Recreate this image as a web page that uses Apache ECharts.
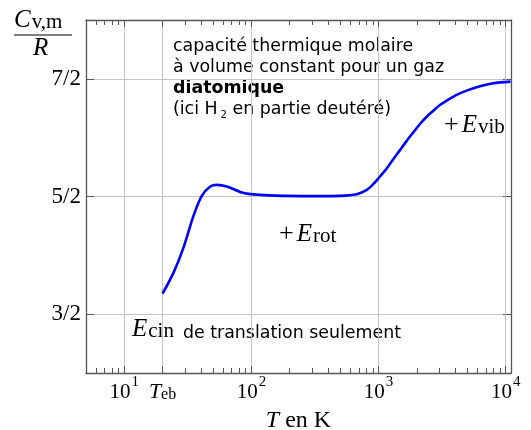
<!DOCTYPE html>
<html><head><meta charset="utf-8">
<script src="https://cdn.jsdelivr.net/npm/echarts@6/dist/echarts.min.js"></script>
<style>html,body{margin:0;padding:0;background:#fff}#c{width:531px;height:430px}</style>
</head><body><div id="c"></div>
<script>
// ---- data ----
var temperatureK = [20, 24.4, 29.2, 35, 40.7, 47.4, 53.5, 64, 81.5, 98, 117, 190, 350, 498, 673, 807, 908, 1025, 1158, 1304, 1472, 1663, 1875, 2115, 2388, 2692, 3034, 3426, 4108, 4922, 6266, 7962, 10900];
var cvOverR     = [1.674, 1.853, 2.066, 2.335, 2.505, 2.585, 2.599, 2.585, 2.539, 2.52, 2.514, 2.505, 2.503, 2.505, 2.519, 2.556, 2.605, 2.670, 2.738, 2.817, 2.894, 2.973, 3.045, 3.116, 3.178, 3.229, 3.278, 3.314, 3.363, 3.400, 3.437, 3.462, 3.476];
var xMajorTicks = [10, 20, 100, 1000, 10000];
var xTickLabels = ['{n|10}{sup|1}', '{it|T}{sub|eb}', '{n|10}{sup|2}', '{n|10}{sup|3}', '{n|10}{sup|4}'];
var xMinorTicks = [6, 7, 8, 9, 30, 40, 50, 60, 70, 80, 90, 200, 300, 400, 500, 600, 700, 800, 900, 2000, 3000, 4000, 5000, 6000, 7000, 8000, 9000];
var yMajorTicks = [1.5, 2.5, 3.5];
var yTickLabels = ['3/2', '5/2', '7/2'];

var SERIF = '"Liberation Serif", "DejaVu Serif", serif';
var SANS = '"DejaVu Sans", sans-serif';
var frame = {show: true, lineStyle: {color: '#555', width: 1.3}};
var xMin = 5, xMax = 11000;

function xAxisDef(pos, ticks, len, showLine, labels, split) {
  return {
    type: 'log', logBase: 10, min: xMin, max: xMax, position: pos,
    axisLine: showLine ? frame : {show: false},
    axisTick: {show: true, inside: true, length: len, customValues: ticks, lineStyle: {color: '#555', width: 1}},
    axisLabel: labels ? {
      show: true, customValues: xMajorTicks, margin: 2, color: '#000',
      fontFamily: SERIF, fontSize: 20,
      formatter: function (v) { var i = xMajorTicks.indexOf(Math.round(v)); return i >= 0 ? xTickLabels[i] : ''; },
      rich: {
        n: {fontFamily: SERIF, fontSize: 21, lineHeight: 28, verticalAlign: 'bottom', color: '#000'},
        sup: {fontFamily: SERIF, fontSize: 15, lineHeight: 12, verticalAlign: 'top', color: '#000', padding: [0, 0, 0, 1]},
        it: {fontFamily: SERIF, fontSize: 22, fontStyle: 'italic', lineHeight: 28, verticalAlign: 'bottom', color: '#000'},
        sub: {fontFamily: SERIF, fontSize: 16, lineHeight: 14, verticalAlign: 'bottom', color: '#000'}
      }
    } : {show: false},
    splitLine: split ? {show: true, lineStyle: {color: '#c4c4c4', width: 1}} : {show: false},
    name: labels ? '{i|T} en K' : '', nameLocation: 'middle', nameGap: 36,
    nameTextStyle: {fontFamily: SERIF, fontSize: 24, color: '#000',
      rich: {i: {fontFamily: SERIF, fontSize: 24, fontStyle: 'italic', color: '#000'}}},
    z: split ? 2 : 3
  };
}

var mathRich = {
  e: {fontFamily: SERIF, fontStyle: 'italic', fontSize: 25, lineHeight: 25, verticalAlign: 'bottom', fill: '#000', padding: [0, 1, 0, 0]},
  p: {fontFamily: SERIF, fontSize: 26, lineHeight: 25, verticalAlign: 'bottom', fill: '#000', padding: [0, 3, 0, 0]},
  s: {fontFamily: SERIF, fontSize: 21, lineHeight: 16, verticalAlign: 'bottom', fill: '#000'},
  t: {fontFamily: SANS, fontSize: 17.4, lineHeight: 20, verticalAlign: 'bottom', fill: '#000', padding: [0, 0, 0, 9]}
};

var chart = echarts.init(document.getElementById('c'), null, {renderer: 'canvas'});
chart.setOption({
  animation: false,
  grid: {left: 86, right: 20, top: 20, bottom: 57, containLabel: false, outerBoundsMode: 'none'},
  xAxis: [
    xAxisDef('bottom', xMajorTicks, 7, true, true, true),
    xAxisDef('bottom', xMinorTicks, 5, false, false, false),
    xAxisDef('top', xMajorTicks, 7, true, false, false),
    xAxisDef('top', xMinorTicks, 5, false, false, false)
  ],
  yAxis: [
    {type: 'value', min: 1, max: 4, position: 'left', axisLine: frame,
     axisTick: {show: true, inside: true, length: 8, customValues: yMajorTicks, lineStyle: {color: '#555'}},
     axisLabel: {show: true, customValues: yMajorTicks, margin: 5, color: '#000', fontFamily: SERIF, fontSize: 23,
       formatter: function (v) { var i = yMajorTicks.indexOf(v); return i >= 0 ? yTickLabels[i] : ''; }},
     splitLine: {show: true, lineStyle: {color: '#c4c4c4', width: 1}}},
    {type: 'value', min: 1, max: 4, position: 'right', axisLine: frame,
     axisTick: {show: true, inside: true, length: 8, customValues: yMajorTicks, lineStyle: {color: '#555'}},
     axisLabel: {show: false}, splitLine: {show: false}}
  ],
  series: [{
    type: 'line', xAxisIndex: 0, yAxisIndex: 0, smooth: 0.3, symbol: 'none',
    lineStyle: {color: '#0000ff', width: 2.6},
    data: temperatureK.map(function (t, i) { return [t, cvOverR[i]]; }),
    z: 5
  }],
  graphic: [
    {type: 'text', left: 14, top: 8, style: {text: '{e|C}{s|v,m}', rich: mathRich}},
    {type: 'line', shape: {x1: 14, y1: 35, x2: 72, y2: 35}, style: {stroke: '#000', lineWidth: 1.2}},
    {type: 'text', left: 33, top: 36, style: {text: 'R', fontFamily: SERIF, fontStyle: 'italic', fontSize: 25, fill: '#000'}},
    {type: 'text', left: 173, top: 36, style: {text: 'capacité thermique molaire\nà volume constant pour un gaz\n{b|diatomique}\n(ici H{h|2} en partie deutéré)',
      fontFamily: SANS, fontSize: 17.4, lineHeight: 21, fill: '#000',
      rich: {b: {fontFamily: SANS, fontSize: 17.4, fontWeight: 'bold', lineHeight: 21},
             h: {fontFamily: SANS, fontSize: 10, verticalAlign: 'bottom', lineHeight: 17, padding: [0, 0, 0, 3]}}}},
    {type: 'text', left: 132, top: 317, style: {text: '{e|E}{s|cin}{t|de translation seulement}', rich: mathRich}},
    {type: 'text', left: 279, top: 221, style: {text: '{p|+}{e|E}{s|rot}', rich: mathRich}},
    {type: 'text', left: 444, top: 112, style: {text: '{p|+}{e|E}{s|vib}', rich: mathRich}}
  ]
});
</script></body></html>
